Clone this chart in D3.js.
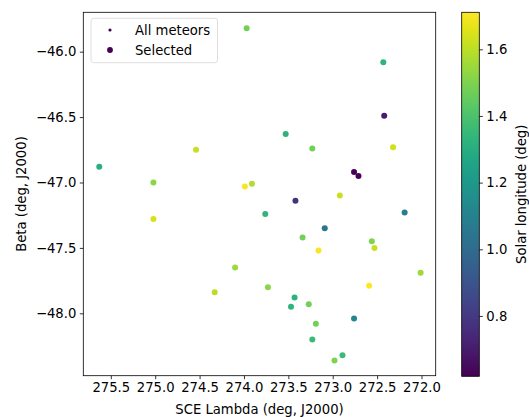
<!DOCTYPE html>
<html>
<head>
<meta charset="utf-8">
<script src="https://cdn.jsdelivr.net/npm/d3@7"></script>
<style>
  html, body { margin: 0; padding: 0; background: #fff; }
  svg { display: block; font-family: "DejaVu Sans", sans-serif; }
</style>
</head>
<body>
<svg id="chart" width="529" height="417"></svg>
<script>
// SCE lambda (deg), beta (deg), solar longitude (deg) for each meteor
const lambdaVals = [273.97, 272.43, 272.42, 273.53, 273.23, 274.54, 272.32, 275.63, 272.76, 272.71,
                    275.02, 273.99, 273.91, 272.92, 273.42, 272.19, 273.76, 275.02, 273.09, 273.34,
                    272.56, 273.16, 272.53, 274.10, 272.01, 273.73, 272.59, 274.33, 273.43, 273.47,
                    273.27, 272.76, 273.19, 273.23, 272.89, 272.98];
const betaVals = [-45.82, -46.08, -46.49, -46.63, -46.74, -46.75, -46.73, -46.88, -46.92, -46.95,
                  -47.00, -47.03, -47.01, -47.10, -47.14, -47.23, -47.24, -47.28, -47.35, -47.42,
                  -47.45, -47.52, -47.50, -47.65, -47.69, -47.80, -47.79, -47.84, -47.88, -47.95,
                  -47.93, -48.04, -48.08, -48.20, -48.32, -48.36];
const solLonVals = [1.48, 1.33, 0.70, 1.32, 1.48, 1.62, 1.63, 1.31, 0.62, 0.63,
                    1.52, 1.70, 1.58, 1.62, 0.78, 1.08, 1.33, 1.64, 1.05, 1.48,
                    1.50, 1.70, 1.62, 1.55, 1.55, 1.52, 1.71, 1.60, 1.32, 1.33,
                    1.48, 1.12, 1.48, 1.36, 1.36, 1.50];

const xTicks = [275.5, 275.0, 274.5, 274.0, 273.5, 273.0, 272.5, 272.0];
const yTicks = [-46.0, -46.5, -47.0, -47.5, -48.0];
const cTicks = [0.8, 1.0, 1.2, 1.4, 1.6];
const legendLabels = ["All meteors", "Selected"];

const svg = d3.select("#chart");
const fontSize = 13.2;

const plot = {left: 83.3, right: 435.7, top: 12.3, bottom: 375.7};
const cbar = {left: 461.7, right: 479.3, top: 12.3, bottom: 376.3};

const x = d3.scaleLinear().domain([275.81, 271.84]).range([plot.left, plot.right]);
const y = d3.scaleLinear().domain([-45.699, -48.477]).range([plot.top, plot.bottom]);
const cDomain = [0.619, 1.711];
const color = d3.scaleSequential(d3.interpolateViridis).domain(cDomain);
const cy = d3.scaleLinear().domain(cDomain).range([cbar.bottom, cbar.top]);

const fmt = d3.format(".1f");

const points = lambdaVals.map((l, i) => ({lambda: l, beta: betaVals[i], sol: solLonVals[i]}));

// points
svg.append("g").attr("class", "points")
    .selectAll("circle")
    .data(points)
    .enter().append("circle")
    .attr("cx", d => x(d.lambda))
    .attr("cy", d => y(d.beta))
    .attr("r", 3)
    .attr("fill", d => color(d.sol));

// x axis
const xAxis = svg.append("g")
    .attr("transform", `translate(0,${plot.bottom})`)
    .call(d3.axisBottom(x).tickValues(xTicks).tickFormat(fmt).tickSizeOuter(0).tickSize(3.5).tickPadding(3.5));

// y axis
const yAxis = svg.append("g")
    .attr("transform", `translate(${plot.left},0)`)
    .call(d3.axisLeft(y).tickValues(yTicks).tickFormat(fmt).tickSizeOuter(0).tickSize(3.5).tickPadding(3.5));

[xAxis, yAxis].forEach(a => {
    a.select(".domain").remove();
    a.selectAll("text").attr("font-size", fontSize).attr("font-family", "DejaVu Sans").attr("fill", "#000");
    a.selectAll("line").attr("stroke", "#000").attr("stroke-width", 0.8);
});

// frame
svg.append("rect")
    .attr("x", plot.left).attr("y", plot.top)
    .attr("width", plot.right - plot.left).attr("height", plot.bottom - plot.top)
    .attr("fill", "none").attr("stroke", "#000").attr("stroke-width", 0.8);

// axis labels
svg.append("text")
    .attr("x", (plot.left + plot.right) / 2).attr("y", 414)
    .attr("text-anchor", "middle").attr("font-size", fontSize)
    .text("SCE Lambda (deg, J2000)");

svg.append("text")
    .attr("transform", `translate(26,${(plot.top + plot.bottom) / 2}) rotate(-90)`)
    .attr("text-anchor", "middle").attr("font-size", fontSize)
    .text("Beta (deg, J2000)");

// legend
const legend = svg.append("g");
legend.append("rect")
    .attr("x", 91).attr("y", 18.3).attr("width", 126.5).attr("height", 44.4)
    .attr("rx", 2.5)
    .attr("fill", "#fff").attr("fill-opacity", 0.8)
    .attr("stroke", "#d6d6d6").attr("stroke-width", 0.8);
legend.selectAll("circle")
    .data(legendLabels)
    .enter().append("circle")
    .attr("cx", 110)
    .attr("cy", (d, i) => 30 + i * 20)
    .attr("r", (d, i) => i === 0 ? 1.6 : 2.9)
    .attr("fill", color(cDomain[0]));
legend.selectAll("text")
    .data(legendLabels)
    .enter().append("text")
    .attr("x", 135)
    .attr("y", (d, i) => 30 + i * 20)
    .attr("dy", "0.35em")
    .attr("font-size", fontSize)
    .text(d => d);

// colorbar
const defs = svg.append("defs");
const grad = defs.append("linearGradient")
    .attr("id", "viridis-grad")
    .attr("x1", "0%").attr("y1", "100%").attr("x2", "0%").attr("y2", "0%");
d3.range(0, 1.0001, 0.05).forEach(t => {
    grad.append("stop")
        .attr("offset", (t * 100) + "%")
        .attr("stop-color", d3.interpolateViridis(t));
});
svg.append("rect")
    .attr("x", cbar.left).attr("y", cbar.top)
    .attr("width", cbar.right - cbar.left).attr("height", cbar.bottom - cbar.top)
    .attr("fill", "url(#viridis-grad)")
    .attr("stroke", "#000").attr("stroke-width", 0.8);

const cAxis = svg.append("g")
    .attr("transform", `translate(${cbar.right},0)`)
    .call(d3.axisRight(cy).tickValues(cTicks).tickFormat(fmt).tickSizeOuter(0).tickSize(3.5).tickPadding(3.5));
cAxis.select(".domain").remove();
cAxis.selectAll("text").attr("font-size", fontSize).attr("font-family", "DejaVu Sans").attr("fill", "#000");
cAxis.selectAll("line").attr("stroke", "#000").attr("stroke-width", 0.8);

svg.append("text")
    .attr("transform", `translate(526,${(cbar.top + cbar.bottom) / 2}) rotate(-90)`)
    .attr("text-anchor", "middle").attr("font-size", fontSize)
    .text("Solar longitude (deg)");
</script>
</body>
</html>
